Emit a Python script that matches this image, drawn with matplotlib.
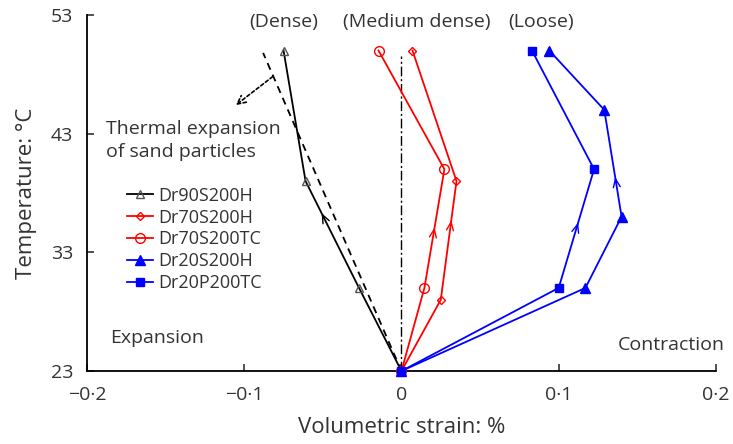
import matplotlib
matplotlib.use("Agg")
import matplotlib.pyplot as plt
import numpy as np

plt.rcParams['font.family'] = ['Open Sans', 'DejaVu Sans']

# Data (volumetric strain %, temperature °C)
dr90_x = [0.0, -0.027, -0.061, -0.075]
dr90_y = [23, 30, 39, 50]
dr70h_x = [0.0, 0.025, 0.035, 0.007]
dr70h_y = [23, 29, 39, 50]
dr70tc_x = [0.0, 0.0146, 0.0273, -0.0146]
dr70tc_y = [23, 30, 40, 50]
dr20h_x = [0.0, 0.117, 0.140, 0.129, 0.094]
dr20h_y = [23, 30, 36, 45, 50]
dr20tc_x = [0.0, 0.100, 0.1225, 0.083]
dr20tc_y = [23, 30, 40, 50]
thermal_x = [0.0, -0.088]
thermal_y = [23, 49.8]

xticks = [-0.2, -0.1, 0, 0.1, 0.2]
xtick_labels = ['\u22120\u00b72', '\u22120\u00b71', '0', '0\u00b71', '0\u00b72']
yticks = [23, 33, 43, 53]

fig = plt.figure(figsize=(7.33, 4.44), dpi=100)
ax = fig.add_axes([0.1187, 0.1644, 0.858, 0.802])

lw = 1.3
ax.plot(thermal_x, thermal_y, color='black', ls=(0, (4, 3)), lw=1.3)
ax.plot([0, 0], [23, 49.5], color='black', ls=(0, (7, 2, 1.5, 2)), lw=1.0)

series = [
    (dr90_x, dr90_y, 'black', '^', 'none', 6, 'Dr90S200H', 1, 0.7),
    (dr70h_x, dr70h_y, '#ff0000', 'D', 'none', 4.5, 'Dr70S200H', 1, 0.67),
    (dr70tc_x, dr70tc_y, '#ff0000', 'o', 'none', 7, 'Dr70S200TC', 1, 0.51),
    (dr20h_x, dr20h_y, '#0000ff', '^', '#0000ff', 6.5, 'Dr20S200H', 2, 0.37),
    (dr20tc_x, dr20tc_y, '#0000ff', 's', '#0000ff', 6, 'Dr20P200TC', 1, 0.55),
]
for xs, ys, c, m, fc, ms, lab, seg, frac in series:
    mec = '#555555' if c == 'black' else c
    ax.plot(xs, ys, color=c, marker=m, mfc=fc, mec=mec, ms=ms, lw=lw,
            label=lab, mew=1.0, clip_on=False, zorder=3)
    x0, y0 = xs[seg], ys[seg]
    x1, y1 = xs[seg + 1], ys[seg + 1]
    xm = x0 + frac * (x1 - x0)
    ym = y0 + frac * (y1 - y0)
    xb = x0 + (frac - 0.05) * (x1 - x0)
    yb = y0 + (frac - 0.05) * (y1 - y0)
    ax.annotate('', xy=(xm, ym), xytext=(xb, yb),
                arrowprops=dict(arrowstyle='->,head_length=0.6,head_width=0.25',
                                color=c, lw=1.0, shrinkA=0, shrinkB=0))

# thermal expansion annotation arrow
ax.annotate('', xy=(-0.1054, 45.4), xytext=(-0.0819, 47.8),
            arrowprops=dict(arrowstyle='->,head_length=0.6,head_width=0.3',
                            color='black', lw=1.2, ls=(0, (2, 1.5)),
                            shrinkA=0, shrinkB=0))

ax.set_xlim(-0.2, 0.2)
ax.set_ylim(23, 53)
ax.set_xticks(xticks)
ax.set_xticklabels(xtick_labels)
ax.set_yticks(yticks)
for s in ['top', 'right']:
    ax.spines[s].set_visible(False)
for s in ['left', 'bottom']:
    ax.spines[s].set_linewidth(1.3)
ax.tick_params(direction='in', length=5, width=1.2, labelsize=14,
               colors='#333333', pad=10)
ax.tick_params(axis='x', pad=11)
ax.set_xlabel('Volumetric strain: %', fontsize=16, color='#333333', labelpad=9)
ax.set_ylabel('Temperature: \u00b0C', fontsize=16, color='#333333', labelpad=10)

tc = '#333333'
fs = 14
ax.text(-0.075, 52.4, '(Dense)', ha='center', va='center', fontsize=fs, color=tc)
ax.text(0.0095, 52.4, '(Medium dense)', ha='center', va='center', fontsize=fs, color=tc)
ax.text(0.0885, 52.4, '(Loose)', ha='center', va='center', fontsize=fs, color=tc)
ax.text(-0.188, 42.4, 'Thermal expansion\nof sand particles', ha='left', va='center',
        fontsize=fs, color=tc, linespacing=1.35)
ax.text(-0.1854, 25.8, 'Expansion', ha='left', va='center', fontsize=fs, color=tc)
ax.text(0.2057, 25.2, 'Contraction', ha='right', va='center', fontsize=fs, color=tc)

leg = ax.legend(loc='upper left', bbox_to_anchor=(0.0636, 0.518), frameon=False,
                fontsize=13, handlelength=1.45, handletextpad=0.3,
                labelspacing=0.22, borderaxespad=0, borderpad=0)
for t in leg.get_texts():
    t.set_color(tc)

fig.savefig('out.png', dpi=100)
